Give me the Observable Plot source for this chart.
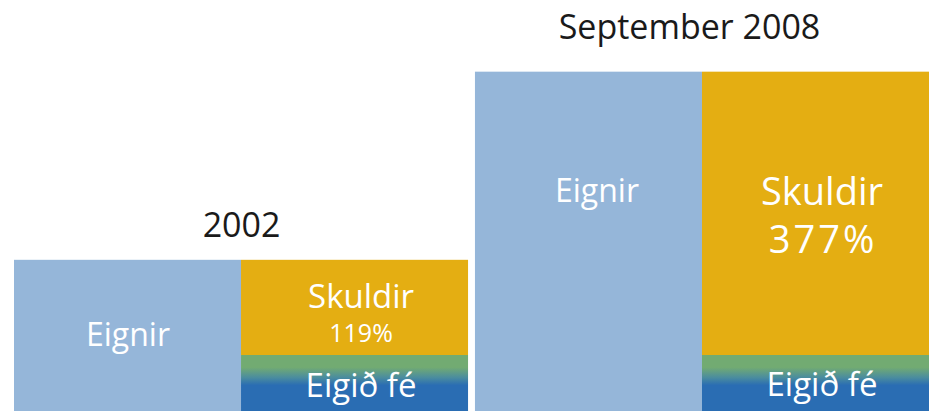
<!DOCTYPE html>
<html><head><meta charset="utf-8">
<script src="https://cdn.jsdelivr.net/npm/d3@7"></script>
<script src="https://cdn.jsdelivr.net/npm/@observablehq/plot@0.6"></script>
<style>
body{margin:0;background:#fff;}
#chart{width:929px;height:411px;overflow:hidden;}
</style>
</head><body><div id="chart"></div>
<script>
// Balance sheets of the banks (stylised)
const years = ["2002", "September 2008"];
const equity = [100, 100];          // Eigið fé (visible band)
const debt = [170, 506];            // Skuldir
const debtLabels = ["119%", "377%"];
const partNames = ["Eignir", "Skuldir", "Eigið fé"];
const partColors = ["#95b6d9", "#e4ae12", "url(#eqgrad)"];

const rows = [];
years.forEach((year, i) => {
  const total = equity[i] + debt[i];
  rows.push({year, col: "A", part: "Eignir", y1: 0, y2: total});
  rows.push({year, col: "L", part: "Eigið fé", y1: 0, y2: equity[i]});
  rows.push({year, col: "L", part: "Skuldir", y1: equity[i], y2: total});
});
const rowOf = (i, part) => rows.find(r => r.year === years[i] && r.part === part);
const mid = r => (r.y1 + r.y2) / 2;

const font = "'Open Sans', sans-serif";
const white = {fill: "white", fontFamily: font, lineAnchor: "bottom"};

// panel-specific label placement
const panelMarks = [
  // 2002
  [
    Plot.text([rowOf(0, "Eignir")], {fx: "year", x: "col", y: mid, text: "part", fontSize: 32, dy: 10, ...white}),
    Plot.text([rowOf(0, "Skuldir")], {fx: "year", x: "col", y: mid, text: "part", fontSize: 33, dy: 0, dx: 6, ...white}),
    Plot.text([rowOf(0, "Skuldir")], {fx: "year", x: "col", y: mid, text: () => debtLabels[0], fontSize: 25, dy: 34, dx: 6, ...white}),
    Plot.text([rowOf(0, "Eigið fé")], {fx: "year", x: "col", y: "y2", text: "part", fontSize: 33, dy: 41, dx: 6, ...white}),
    Plot.text([rowOf(0, "Eignir")], {fx: "year", y: "y2", text: "year", fontSize: 34, dy: -23, fill: "#1a1a1a", fontFamily: font, lineAnchor: "bottom"})
  ],
  // September 2008
  [
    Plot.text([rowOf(1, "Eignir")], {fx: "year", x: "col", y: () => mid(rowOf(1, "Skuldir")), text: "part", fontSize: 32, dy: -12, dx: 8, ...white}),
    Plot.text([rowOf(1, "Skuldir")], {fx: "year", x: "col", y: mid, text: "part", fontSize: 38, dy: -9, dx: 6, ...white}),
    Plot.text([rowOf(1, "Skuldir")], {fx: "year", x: "col", y: mid, text: () => debtLabels[1], fontSize: 38, dy: 39, dx: 7, ...white, className: "pct-big"}),
    Plot.text([rowOf(1, "Eigið fé")], {fx: "year", x: "col", y: "y2", text: "part", fontSize: 33, dy: 40, dx: 6, ...white}),
    Plot.text([rowOf(1, "Eignir")], {fx: "year", y: "y2", text: "year", fontSize: 34, dy: -33, dx: -13, fill: "#1a1a1a", fontFamily: font, lineAnchor: "bottom"})
  ]
];

const svg = Plot.plot({
  width: 929,
  height: 411,
  marginTop: 0, marginBottom: 0, marginLeft: 14, marginRight: 0,
  style: {background: "white", fontFamily: font},
  fx: {domain: years, paddingInner: 0.015, paddingOuter: 0, round: false, axis: null, label: null},
  x: {domain: ["A", "L"], padding: 0, round: false, axis: null, label: null},
  y: {domain: [0, 734], axis: null, label: null},
  color: {type: "ordinal", domain: partNames, range: partColors},
  marks: [
    Plot.barY(rows, {fx: "year", x: "col", y1: "y1", y2: "y2", fill: "part", inset: 0}),
    ...panelMarks.flat()
  ]
});

// slightly wider letter spacing for the large percentage, as in the original
d3.select(svg).selectAll(".pct-big text").attr("letter-spacing", "3px");

// gradient for the equity band (green into blue)
const defs = d3.select(svg).insert("defs", ":first-child");
const g = defs.append("linearGradient").attr("id", "eqgrad")
  .attr("x1", 0).attr("y1", 0).attr("x2", 0).attr("y2", 1);
g.append("stop").attr("offset", "0").attr("stop-color", "#72ab72");
g.append("stop").attr("offset", "0.22").attr("stop-color", "#72ab72");
g.append("stop").attr("offset", "0.40").attr("stop-color", "#4b8d9e");
g.append("stop").attr("offset", "0.54").attr("stop-color", "#2a6db3");
g.append("stop").attr("offset", "1").attr("stop-color", "#2a6db3");

document.getElementById("chart").appendChild(svg);
</script>
</body></html>
